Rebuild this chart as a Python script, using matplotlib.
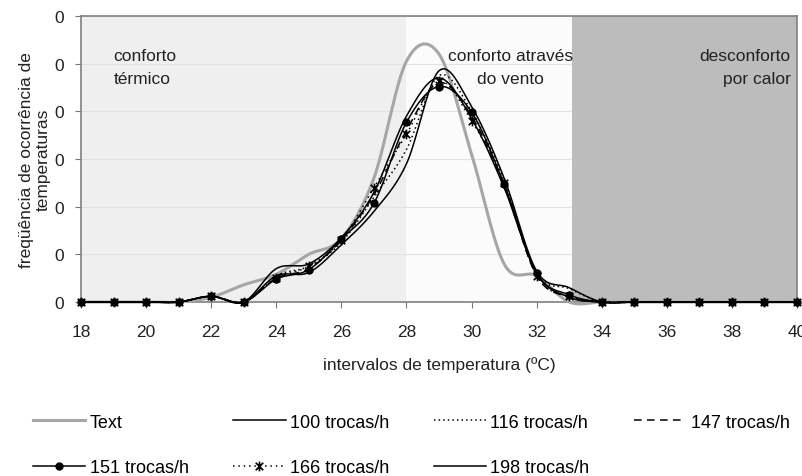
import numpy as np
import matplotlib
matplotlib.use("Agg")
from matplotlib import pyplot as plt
from matplotlib.path import Path
from matplotlib.ticker import FuncFormatter

plt.rcParams['font.family'] = ['Liberation Sans', 'DejaVu Sans']

# temperature intervals (ºC)
temps = np.arange(18, 41)

# frequency of occurrence for each interval
t_ext = [0, 0, 0, 0, 0.005, 0.018, 0.029, 0.050, 0.0665, 0.130, 0.2525, 0.260,
         0.155, 0.040, 0.0275, 0, 0, 0, 0, 0, 0, 0, 0]
r100 = [0, 0, 0, 0, 0.006, 0, 0.035, 0.040, 0.0675, 0.115, 0.195, 0.235,
        0.1925, 0.120, 0.030, 0.005, 0, 0, 0, 0, 0, 0, 0]
r116 = [0, 0, 0, 0, 0.006, 0, 0.0275, 0.0375, 0.0625, 0.110, 0.160, 0.2375,
        0.200, 0.1275, 0.030, 0.014, 0, 0, 0, 0, 0, 0, 0]
r147 = [0, 0, 0, 0, 0.006, 0, 0.025, 0.035, 0.065, 0.1125, 0.180, 0.230,
        0.195, 0.1225, 0.0275, 0.005, 0, 0, 0, 0, 0, 0, 0]
r151 = [0, 0, 0, 0, 0.006, 0, 0.024, 0.034, 0.066, 0.1035, 0.1885, 0.226,
        0.199, 0.1235, 0.030, 0.0075, 0, 0, 0, 0, 0, 0, 0]
r166 = [0, 0, 0, 0, 0.006, 0, 0.025, 0.0375, 0.065, 0.120, 0.176, 0.2315,
        0.190, 0.125, 0.0275, 0.006, 0, 0, 0, 0, 0, 0, 0]
r198 = [0, 0, 0, 0, 0.006, 0, 0.0275, 0.031, 0.060, 0.095, 0.145, 0.2425,
        0.205, 0.130, 0.0325, 0.015, 0, 0, 0, 0, 0, 0, 0]

N = 20  # samples per segment for the smoothed curve


def smooth(x, y, n=N):
    # Catmull-Rom curve through the points (like Excel "smoothed line")
    x = np.asarray(x, float)
    y = np.asarray(y, float)
    px = np.concatenate([[2 * x[0] - x[1]], x, [2 * x[-1] - x[-2]]])
    py = np.concatenate([[y[0]], y, [y[-1]]])
    t = np.linspace(0, 1, n, endpoint=False)
    h00 = 2 * t**3 - 3 * t**2 + 1
    h10 = t**3 - 2 * t**2 + t
    h01 = -2 * t**3 + 3 * t**2
    h11 = t**3 - t**2
    xs, ys = [], []
    for i in range(1, len(px) - 2):
        mx0 = (px[i + 1] - px[i - 1]) / 2
        mx1 = (px[i + 2] - px[i]) / 2
        my0 = (py[i + 1] - py[i - 1]) / 2
        my1 = (py[i + 2] - py[i]) / 2
        xs.append(h00 * px[i] + h10 * mx0 + h01 * px[i + 1] + h11 * mx1)
        ys.append(h00 * py[i] + h10 * my0 + h01 * py[i + 1] + h11 * my1)
    xs.append([x[-1]])
    ys.append([y[-1]])
    return np.concatenate(xs), np.concatenate(ys)


# Excel-like star marker: an "x" with a vertical bar
star = Path([(-1, -1), (1, 1), (-1, 1), (1, -1), (0, -1.3), (0, 1.3)],
            [Path.MOVETO, Path.LINETO, Path.MOVETO, Path.LINETO, Path.MOVETO, Path.LINETO])

fig = plt.figure(figsize=(8.02, 4.77), dpi=100)
ax = fig.add_axes([0.101, 0.3648, 0.8928, 0.5996])

# comfort zones
ax.axvspan(18, 28, color='#efefef', zorder=0.2, lw=0)
ax.axvspan(28, 33.1, color='#fbfbfb', zorder=0.2, lw=0)
ax.axvspan(33.1, 40, color='#bcbcbc', zorder=1.5, lw=0)
ax.set_axisbelow(True)
ax.grid(axis='y', color='#e2e2e2', lw=0.8, zorder=1)

series = [
    ("Text", t_ext, dict(color='#a6a6a6', lw=2.2)),
    ("151 trocas/h", r151, dict(color='black', lw=1.1, marker='o', ms=5)),
    ("100 trocas/h", r100, dict(color='black', lw=1.1)),
    ("166 trocas/h", r166, dict(color='black', lw=1.1, ls=(0, (1, 2.5)), marker=star, ms=7, mew=1.2)),
    ("116 trocas/h", r116, dict(color='black', lw=1.1, ls=(0, (1, 2)))),
    ("198 trocas/h", r198, dict(color='black', lw=1.1)),
    ("147 trocas/h", r147, dict(color='black', lw=1.1, ls=(0, (5, 3.5)))),
]
for label, vals, style in series:
    xs, ys = smooth(temps, vals)
    ax.plot(xs, ys, label=label, markevery=N, zorder=3, clip_on=False, **style)

ax.set_xlim(18, 40)
ax.set_ylim(0, 0.30)
ax.set_xticks(np.arange(18, 41, 2))
ax.set_yticks(np.arange(0, 0.301, 0.05))
ax.yaxis.set_major_formatter(FuncFormatter(lambda v, p: f"{v:.0f}"))
ax.tick_params(axis='both', labelsize=12.5, colors='#777777', labelcolor='#222222', length=4)
ax.tick_params(axis='x', pad=12)
ax.tick_params(axis='y', pad=8)
for s in ax.spines.values():
    s.set_color('#808080')
    s.set_linewidth(1.2)

ax.set_xlabel("intervalos de temperatura (ºC)", fontsize=12.5, color='#222222', labelpad=12)
ax.set_ylabel("freqüência de ocorrência de\ntemperaturas", fontsize=12.5, color='#222222',
              linespacing=1.15, labelpad=3)

ax.text(19.0, 0.2465, "conforto\ntérmico", fontsize=12.5, color='#222222', va='center', linespacing=1.6)
ax.text(31.2, 0.2465, "conforto através\ndo vento", fontsize=12.5, color='#222222',
        va='center', ha='center', linespacing=1.6)
ax.text(39.8, 0.2465, "desconforto\npor calor", fontsize=12.5, color='#222222',
        va='center', ha='right', multialignment='right', linespacing=1.6)

fig.legend(loc='upper left', bbox_to_anchor=(0.030, 0.1495), ncol=4, frameon=False,
           prop={'size': 13}, handlelength=2.9, handletextpad=0.25,
           columnspacing=2.45, labelspacing=1.57, borderpad=0, numpoints=1)

fig.savefig("out.png", dpi=100)
